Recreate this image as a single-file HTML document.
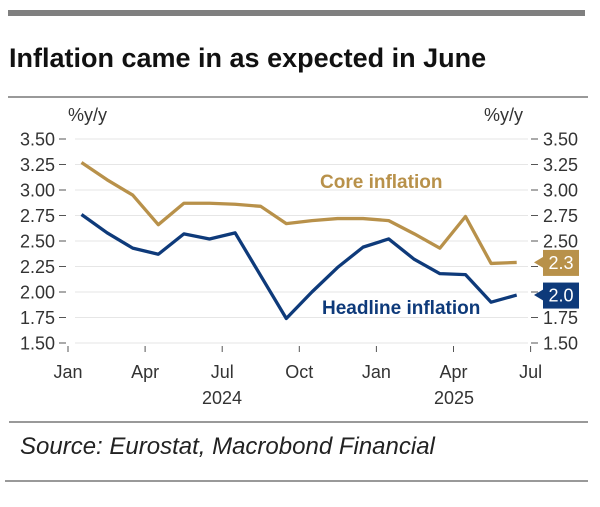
<!DOCTYPE html>
<html><head><meta charset="utf-8"><style>
body{margin:0;background:#fff;width:600px;height:502px;overflow:hidden;font-family:"Liberation Sans",sans-serif}
</style></head><body>
<svg width="600" height="502" viewBox="0 0 600 502" font-family="Liberation Sans, sans-serif">
<rect x="8" y="10" width="577" height="6" fill="#7f7f7f"/>
<text x="9" y="67" font-size="27" font-weight="bold" fill="#111">Inflation came in as expected in June</text>
<rect x="8" y="96" width="580" height="2" fill="#999"/>
<text x="68" y="121" font-size="18" fill="#333">%y/y</text>
<text x="484" y="121" font-size="18" fill="#333">%y/y</text>
<g id="grid"></g><g id="axes"></g><g id="lines"></g>
<text x="320" y="188" font-size="19" font-weight="bold" fill="#B8914A">Core inflation</text>
<text x="322" y="314" font-size="19" font-weight="bold" fill="#0E3A7A">Headline inflation</text>
<g id="tags"></g>
<text x="222" y="404" font-size="18" fill="#333" text-anchor="middle">2024</text>
<text x="454" y="404" font-size="18" fill="#333" text-anchor="middle">2025</text>
<rect x="9" y="421" width="579" height="2" fill="#999"/>
<text x="20" y="454" font-size="24" font-style="italic" fill="#222">Source: Eurostat, Macrobond Financial</text>
<rect x="5" y="480" width="583" height="2" fill="#999"/>
</svg>
<script>
const yTicks=[3.5,3.25,3.0,2.75,2.5,2.25,2.0,1.75,1.5];
const monthLabels=["Jan","Apr","Jul","Oct","Jan","Apr","Jul"];
const headline=[2.76,2.58,2.43,2.37,2.57,2.52,2.58,2.16,1.74,2.0,2.24,2.44,2.52,2.32,2.18,2.17,1.90,1.97];
const core=[3.27,3.1,2.95,2.66,2.87,2.87,2.86,2.84,2.67,2.70,2.72,2.72,2.70,2.57,2.43,2.74,2.28,2.29];
const lastValues=["2.3","2.0"];
const NS="http://www.w3.org/2000/svg";
const y=v=>139+(3.5-v)*102;
const x=i=>81.5+25.6*i;
const tickX=k=>68+77.1*k;
function mk(t,a,p){const e=document.createElementNS(NS,t);for(const k in a)e.setAttribute(k,a[k]);if(p)document.getElementById(p).appendChild(e);return e;}
yTicks.forEach(v=>{
 const g=mk('line',{x1:75,x2:528,y1:y(v),y2:y(v),stroke:'#e6e6e6','stroke-width':1},'grid');
 
 
 const l=mk('text',{x:55,y:y(v)+6.5,'font-size':18,fill:'#333','text-anchor':'end'},'axes');l.textContent=v.toFixed(2);
 
 
 mk('line',{x1:59,x2:66,y1:y(v),y2:y(v),stroke:'#555'},'axes');
 mk('line',{x1:531,x2:538,y1:y(v),y2:y(v),stroke:'#555'},'axes');
 const r=mk('text',{x:543,y:y(v)+6.5,'font-size':18,fill:'#333'},'axes');r.textContent=v.toFixed(2);
 
 
});
monthLabels.forEach((m,k)=>{
 mk('line',{x1:tickX(k),x2:tickX(k),y1:346,y2:352,stroke:'#555'},'axes');
 const t=mk('text',{x:tickX(k),y:378,'font-size':18,fill:'#333','text-anchor':'middle'},'axes');t.textContent=m;
 
 
});
function line(d,c,n){const p=mk('polyline',{points:d.map((v,i)=>x(i)+','+y(v)).join(' '),fill:'none',stroke:c,'stroke-width':3.3,'stroke-linejoin':'round'},'lines');
 
 }
line(core,'#B8914A','core-inflation-line');
line(headline,'#0E3A7A','headline-inflation-line');
[[core,'#B8914A',0,'core-value-tag'],[headline,'#0E3A7A',1,'headline-value-tag']].forEach(([d,c,k,n])=>{
 const cy=y(d[d.length-1]);
 const g=mk('g',{},'tags');
 
 
 g.appendChild(mk('rect',{x:543,y:cy-12.5,width:36,height:26,fill:c}));
 g.appendChild(mk('polygon',{points:`534,${cy} 544,${cy-6} 544,${cy+6}`,fill:c}));
 const t=mk('text',{x:561,y:cy+6.5,'font-size':18,fill:'#fff','text-anchor':'middle'});t.textContent=lastValues[k];g.appendChild(t);
});
</script>
</body></html>
